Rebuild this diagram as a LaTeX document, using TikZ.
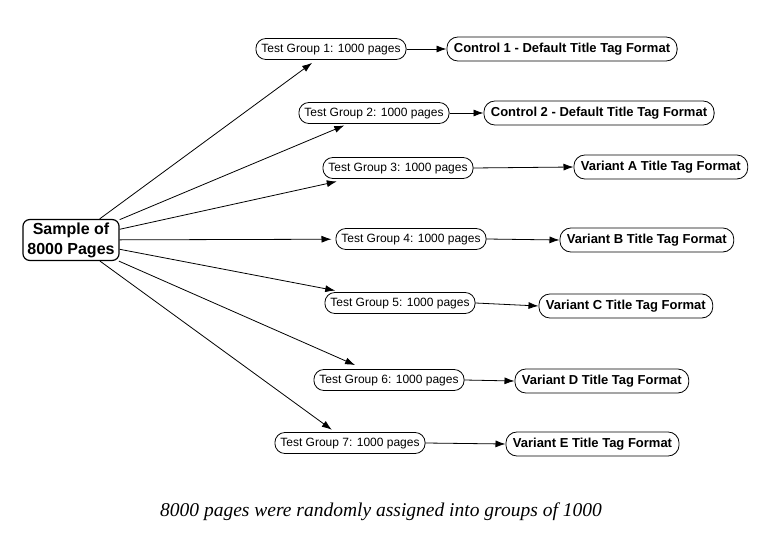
\documentclass[tikz,border=0pt]{standalone}
\usepackage{fontspec}
\setmainfont{Liberation Sans}
\newfontfamily\notefont{Liberation Serif}
\usetikzlibrary{arrows.meta, positioning}
\tikzstyle{arrow} = [line width=0.8pt, -{Latex[length=10pt,width=7pt]}]

\begin{document}
\begin{tikzpicture}[
  x=1pt, y=-1pt,
  every node/.style={font=\fontsize{12}{14}\selectfont},
  sample/.style={draw, line width=1.2pt, rounded corners=7pt, align=center, inner xsep=4.5pt, inner ysep=3pt, font=\fontsize{16}{20}\selectfont\bfseries},
  group/.style={draw, line width=0.8pt, rounded corners=10pt, minimum height=21pt, inner xsep=5.5pt, inner ysep=2pt, text height=9pt, text depth=2.5pt},
  variant/.style={draw, line width=0.8pt, rounded corners=11pt, minimum height=24pt, inner xsep=7pt, inner ysep=2pt, text height=10pt, text depth=3pt, font=\fontsize{13}{15}\selectfont\bfseries},
  note/.style={font=\notefont\itshape\fontsize{19.5}{22}\selectfont}
]
\useasboundingbox (0,0) rectangle (768,534);

% Nodes
\node[sample] (sample) at (71,240) {Sample of\\8000 Pages};

\node[group] (g1) at (331,49)  {Test Group 1: 1000 pages};
\node[group] (g2) at (374,113) {Test Group 2: 1000 pages};
\node[group] (g3) at (398,168) {Test Group 3: 1000 pages};
\node[group] (g4) at (411,239) {Test Group 4: 1000 pages};
\node[group] (g5) at (400,303) {Test Group 5: 1000 pages};
\node[group] (g6) at (389,380) {Test Group 6: 1000 pages};
\node[group] (g7) at (350,443) {Test Group 7: 1000 pages};

\node[variant, right=40pt of g1]               (ctrl1) {Control 1 - Default Title Tag Format};
\node[variant, right=34pt of g2]               (ctrl2) {Control 2 - Default Title Tag Format};
\node[variant, right=100pt of g3, yshift=1pt]  (varA)  {Variant A Title Tag Format};
\node[variant, right=73pt of g4, yshift=-1pt]  (varB)  {Variant B Title Tag Format};
\node[variant, right=63pt of g5, yshift=-3pt]  (varC)  {Variant C Title Tag Format};
\node[variant, right=50pt of g6, yshift=-1pt]  (varD)  {Variant D Title Tag Format};
\node[variant, right=80pt of g7, yshift=-1pt]  (varE)  {Variant E Title Tag Format};

% Lines from sample to groups
\draw[arrow, shorten >=5pt]  (sample) -- (g1);
\draw[arrow, shorten >=4pt]  (sample) -- (g2);
\draw[arrow, shorten >=12pt] (sample) -- (g3);
\draw[arrow, shorten >=4pt]  (sample) -- (g4);
\draw[arrow, shorten >=8pt]  (sample) -- (g5);
\draw[arrow, shorten >=10pt] (sample) -- (g6);
\draw[arrow, shorten >=4pt]  (sample) -- (g7);

% Lines from groups to variants
\draw[arrow] (g1.east) -- (ctrl1.west);
\draw[arrow] (g2.east) -- (ctrl2.west);
\draw[arrow] (g3.east) -- (varA.west);
\draw[arrow] (g4.east) -- (varB.west);
\draw[arrow] (g5.east) -- (varC.west);
\draw[arrow] (g6.east) -- (varD.west);
\draw[arrow] (g7.east) -- (varE.west);

\node[note] (caption) at (381,512) {8000 pages were randomly assigned into groups of 1000};
\end{tikzpicture}
\end{document}
